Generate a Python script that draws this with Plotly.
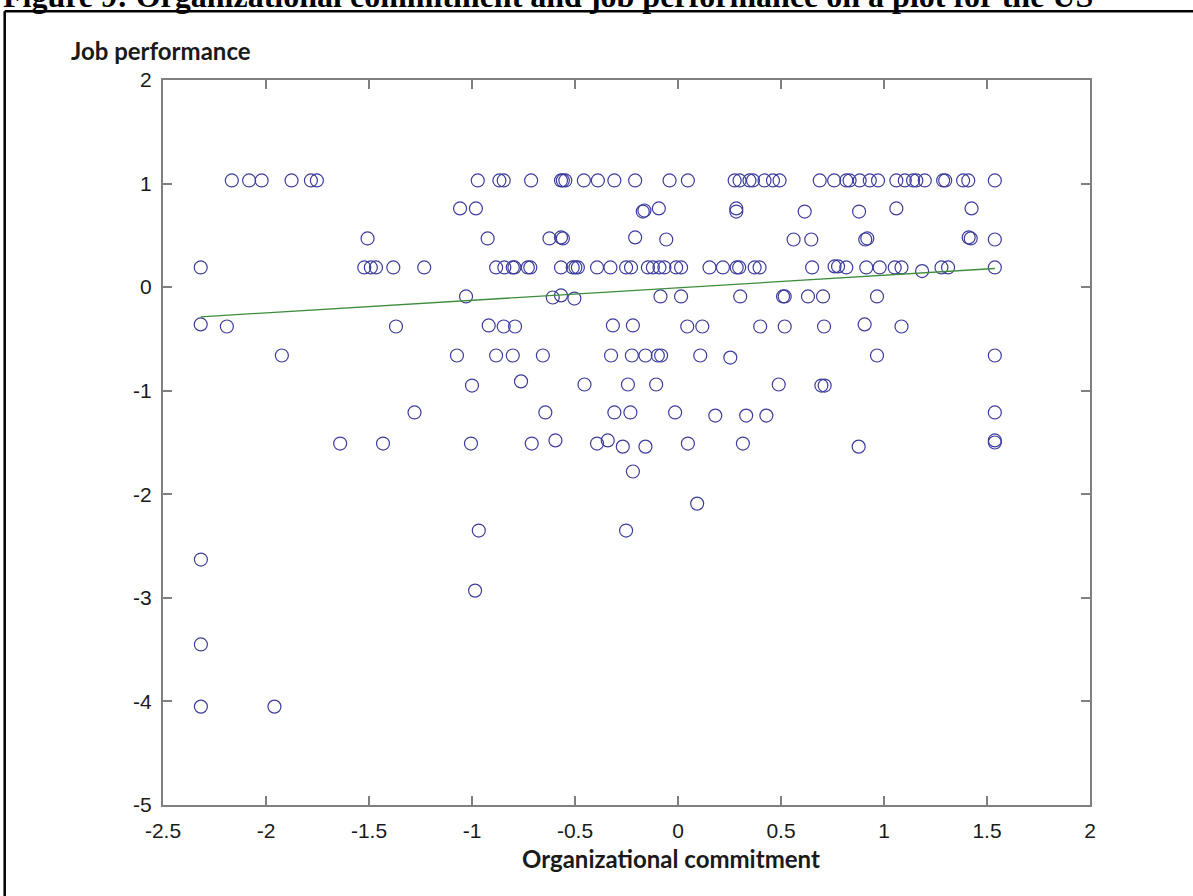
import plotly.graph_objects as go

# Organizational commitment (x) and job performance (y), standardized scores
commitment = [
    # job performance ~ 1.03
    -2.166, -2.082, -2.021, -1.876, -1.782, -1.753,
    -0.972, -0.867, -0.846, -0.713, -0.568, -0.559, -0.547, -0.457, -0.389,
    -0.309, -0.208, -0.041, 0.048, 0.275, 0.299, 0.347, 0.364, 0.420, 0.461,
    0.493, 0.688, 0.758, 0.817, 0.833, 0.882, 0.931, 0.971, 1.060, 1.101,
    1.141, 1.157, 1.198, 1.287, 1.297, 1.384, 1.409, 1.538,
    # ~ 0.75
    -1.058, -0.981, -0.171, -0.163, -0.093, 0.283, 0.283, 0.615, 0.879,
    1.060, 1.425,
    # ~ 0.47
    -1.507, -0.924, -0.624, -0.568, -0.559, -0.208, -0.057, 0.561, 0.647,
    0.909, 0.919, 1.411, 1.421, 1.538,
    # ~ 0.19
    -2.317, -1.523, -1.491, -1.466, -1.382, -1.232, -0.883, -0.843, -0.802,
    -0.794, -0.729, -0.717, -0.568, -0.511, -0.498, -0.486, -0.393, -0.328,
    -0.252, -0.228, -0.146, -0.122, -0.090, -0.066, -0.009, 0.015, 0.153,
    0.218, 0.285, 0.297, 0.372, 0.396, 0.651, 0.760, 0.777, 0.817, 0.914,
    0.979, 1.052, 1.085, 1.185, 1.279, 1.311, 1.538,
    # ~ -0.09
    -1.029, -0.608, -0.568, -0.503, -0.085, 0.015, 0.302, 0.510, 0.518,
    0.631, 0.704, 0.966,
    # ~ -0.38
    -2.317, -2.190, -1.369, -0.919, -0.846, -0.791, -0.316, -0.219, 0.045,
    0.118, 0.399, 0.518, 0.709, 0.906, 1.085,
    # ~ -0.66
    -1.923, -1.073, -0.883, -0.802, -0.656, -0.325, -0.224, -0.158, -0.098,
    -0.082, 0.108, 0.254, 0.966, 1.538,
    # ~ -0.94
    -1.000, -0.762, -0.454, -0.243, -0.106, 0.489, 0.696, 0.712,
    # ~ -1.21
    -1.279, -0.644, -0.309, -0.231, -0.014, 0.181, 0.331, 0.429, 1.538,
    # ~ -1.50
    -1.640, -1.432, -1.005, -0.710, -0.595, -0.393, -0.341, -0.268, -0.158,
    0.048, 0.315, 0.877, 1.538, 1.538,
    # low performers
    -0.219, 0.093, -0.967, -0.252, -2.316, -0.985, -2.316, -2.316, -1.959,
]

job_performance = [
    1.03, 1.03, 1.03, 1.03, 1.03, 1.03,
    1.03, 1.03, 1.03, 1.03, 1.03, 1.03, 1.03, 1.03, 1.03,
    1.03, 1.03, 1.03, 1.03, 1.03, 1.03, 1.03, 1.03, 1.03, 1.03,
    1.03, 1.03, 1.03, 1.03, 1.03, 1.03, 1.03, 1.03, 1.03, 1.03,
    1.03, 1.03, 1.03, 1.03, 1.03, 1.03, 1.03, 1.03,
    0.76, 0.76, 0.73, 0.74, 0.76, 0.73, 0.76, 0.73, 0.73,
    0.76, 0.76,
    0.47, 0.47, 0.47, 0.48, 0.47, 0.48, 0.46, 0.46, 0.46,
    0.46, 0.47, 0.48, 0.47, 0.46,
    0.19, 0.19, 0.19, 0.19, 0.19, 0.19, 0.19, 0.19, 0.19,
    0.19, 0.19, 0.19, 0.19, 0.19, 0.19, 0.19, 0.19, 0.19,
    0.19, 0.19, 0.19, 0.19, 0.19, 0.19, 0.19, 0.19, 0.19,
    0.19, 0.19, 0.19, 0.19, 0.19, 0.19, 0.20, 0.20, 0.19, 0.19,
    0.19, 0.19, 0.19, 0.155, 0.19, 0.19, 0.19,
    -0.09, -0.10, -0.08, -0.11, -0.09, -0.09, -0.09, -0.09, -0.09,
    -0.09, -0.09, -0.09,
    -0.36, -0.38, -0.38, -0.37, -0.38, -0.38, -0.37, -0.37, -0.38,
    -0.38, -0.38, -0.38, -0.38, -0.36, -0.38,
    -0.66, -0.66, -0.66, -0.66, -0.66, -0.66, -0.66, -0.66, -0.66,
    -0.66, -0.66, -0.68, -0.66, -0.66,
    -0.95, -0.91, -0.94, -0.94, -0.94, -0.94, -0.95, -0.95,
    -1.21, -1.21, -1.21, -1.21, -1.21, -1.24, -1.24, -1.24, -1.21,
    -1.51, -1.51, -1.51, -1.51, -1.48, -1.51, -1.48, -1.54, -1.54,
    -1.51, -1.51, -1.54, -1.48, -1.50,
    -1.78, -2.09, -2.35, -2.35, -2.63, -2.93, -3.45, -4.05, -4.05,
]

# Least-squares line: performance = intercept + slope * commitment
fit_intercept = -0.006
fit_slope = 0.121

x_ticks = [-2.5, -2, -1.5, -1, -0.5, 0, 0.5, 1, 1.5, 2]
x_tick_text = ["-2.5", "-2", "-1.5", "-1", "-0.5", "0", "0.5", "1", "1.5", "2"]
y_ticks = [-5, -4, -3, -2, -1, 0, 1, 2]
y_tick_text = ["-5", "-4", "-3", "-2", "-1", "0", "1", "2"]

fit_x = [min(commitment), max(commitment)]
fit_y = [fit_intercept + fit_slope * v for v in fit_x]

W, H = 1193, 896
L, R, T, B = 163, 103, 80, 91
plot_w = W - L - R
plot_h = H - T - B


def px_x(p):
    return (p - L) / plot_w


def px_y(p):
    return (H - B - p) / plot_h


fig = go.Figure()
fig.add_trace(go.Scatter(
    x=commitment, y=job_performance, mode="markers",
    marker=dict(symbol="circle-open", size=13, color="#3c3c9e",
                line=dict(width=1.2)),
    hoverinfo="x+y",
))
fig.add_trace(go.Scatter(
    x=fit_x, y=fit_y, mode="lines",
    line=dict(color="#3c8c3c", width=1.3),
    hoverinfo="skip",
))

axis_common = dict(
    showline=True, linecolor="#808080", linewidth=2, mirror="ticks",
    ticks="inside", ticklen=9, tickwidth=1.5, tickcolor="#808080",
    showgrid=False, zeroline=False,
    tickfont=dict(family="Liberation Sans, Arial, sans-serif", size=21,
                  color="#1a1a1a"),
)

fig.update_layout(
    width=W, height=H,
    margin=dict(l=L, r=R, t=T, b=B),
    paper_bgcolor="white", plot_bgcolor="white",
    showlegend=False,
    xaxis=dict(range=[-2.5, 2], tickvals=x_ticks, ticktext=x_tick_text,
               ticklabelstandoff=6, **axis_common),
    yaxis=dict(range=[-5, 2], tickvals=y_ticks, ticktext=y_tick_text,
               ticklabelstandoff=5, **axis_common),
    annotations=[
        dict(text="<b>Figure 9: Organizational commitment and job performance on a plot for the US</b>",
             xref="paper", yref="paper", x=px_x(1), y=px_y(16),
             xanchor="left", yanchor="bottom", showarrow=False,
             font=dict(family="Liberation Serif, Times New Roman, serif",
                       size=32, color="black")),
        dict(text="<b>Job performance</b>",
             xref="paper", yref="paper", x=px_x(69), y=px_y(67),
             xanchor="left", yanchor="bottom", showarrow=False,
             font=dict(family="Lato, sans-serif", size=24, color="#1a1a1a")),
        dict(text="<b>Organizational commitment</b>",
             xref="paper", yref="paper", x=px_x(671), y=px_y(858),
             xanchor="center", yanchor="middle", showarrow=False,
             font=dict(family="Lato, sans-serif", size=24, color="#1a1a1a")),
    ],
    shapes=[
        dict(type="line", xref="paper", yref="paper",
             x0=px_x(4.7), x1=px_x(1210), y0=px_y(11.2), y1=px_y(11.2),
             line=dict(color="black", width=2.5)),
        dict(type="line", xref="paper", yref="paper",
             x0=px_x(4.7), x1=px_x(4.7), y0=px_y(11.2), y1=px_y(910),
             line=dict(color="black", width=2.5)),
    ],
)

fig.write_html("out.html")
